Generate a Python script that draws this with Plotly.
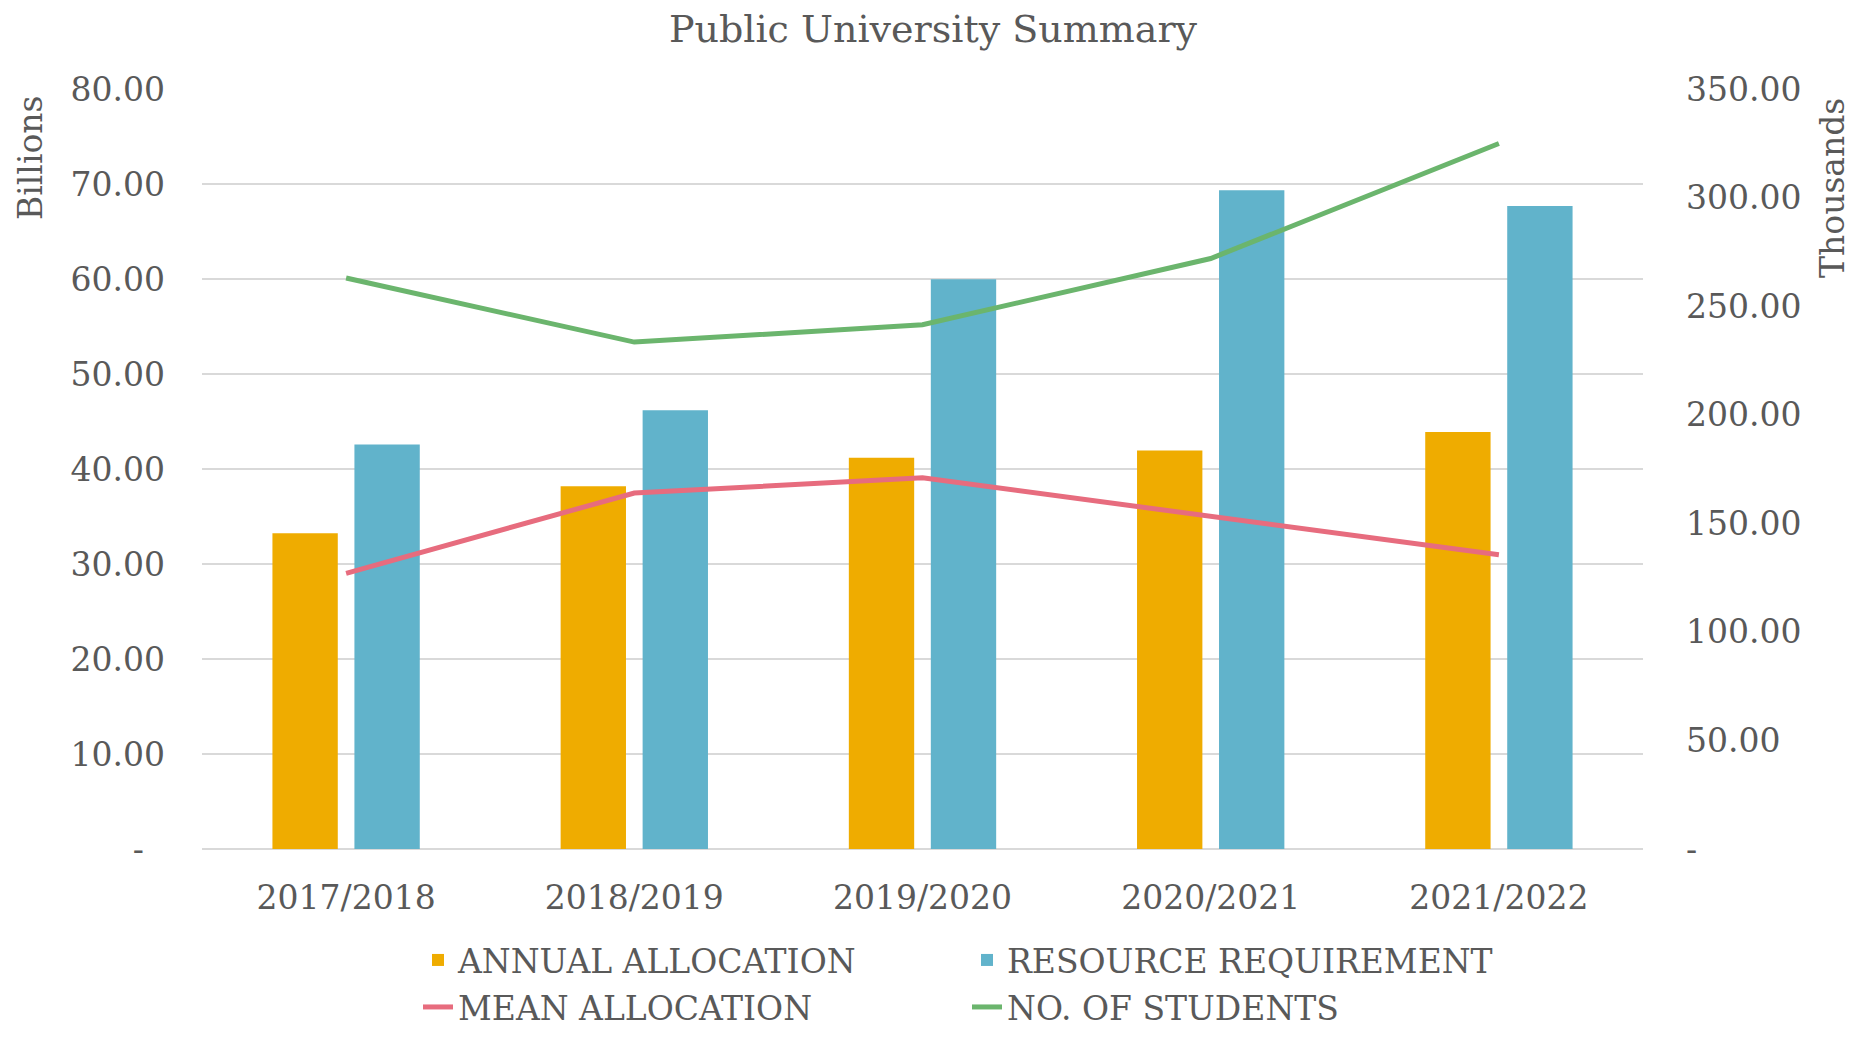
import plotly.graph_objects as go

years = ["2017/2018", "2018/2019", "2019/2020", "2020/2021", "2021/2022"]
annual_allocation = [33.25, 38.2, 41.2, 41.95, 43.9]          # Billions
resource_requirement = [42.6, 46.2, 60.0, 69.35, 67.7]       # Billions
mean_allocation = [127.0, 164.0, 171.0, 153.0, 135.5]        # Thousands
no_of_students = [263.0, 233.5, 241.5, 272.0, 325.0]         # Thousands

left_ticks = [0, 10, 20, 30, 40, 50, 60, 70, 80]
left_ticktext = ["-\u00a0\u00a0"] + [f"{v:.2f}" for v in left_ticks[1:]]
right_ticks = [0, 50, 100, 150, 200, 250, 300, 350]
right_ticktext = ["-"] + [f"{v:.2f}" for v in right_ticks[1:]]

FONT = "DejaVu Serif"
TXT = "#595959"
OFF = 8  # page body margin
W, H = 1863 - 2 * OFF, 1037 - 2 * OFF
L, T = 202 - OFF, 89 - OFF
PW, PH = 1441, 760
R, B = W - L - PW, H - T - PH

fig = go.Figure()
fig.add_trace(go.Bar(x=years, y=annual_allocation, name="ANNUAL ALLOCATION",
                     marker=dict(color="#EFAC00", line=dict(width=0)), legend="legend"))
fig.add_trace(go.Bar(x=years, y=resource_requirement, name="RESOURCE REQUIREMENT",
                     marker=dict(color="#61B3CB", line=dict(width=0)), legend="legend"))
fig.add_trace(go.Scatter(x=years, y=mean_allocation, name="MEAN ALLOCATION", yaxis="y2",
                         mode="lines", line=dict(color="#E76C7E", width=5), legend="legend2"))
fig.add_trace(go.Scatter(x=years, y=no_of_students, name="NO. OF STUDENTS", yaxis="y2",
                         mode="lines", line=dict(color="#6BB56D", width=5), legend="legend2"))

leg_common = dict(orientation="h", xanchor="left", yanchor="middle",
                  xref="container", yref="container",
                  font=dict(family=FONT, size=33, color=TXT),
                  entrywidth=504, entrywidthmode="pixels", bgcolor="rgba(0,0,0,0)",
                  traceorder="normal")
LEGX = 410 / W
fig.update_layout(
    width=W, height=H,
    margin=dict(l=L, r=R, t=T, b=B, autoexpand=False),
    paper_bgcolor="white", plot_bgcolor="white",
    font=dict(family=FONT, size=33, color=TXT),
    title=dict(text="Public University Summary", x=(933 - OFF) / W, xref="container",
               xanchor="center", y=1 - 21 / H, yanchor="middle",
               font=dict(family=FONT, size=38, color=TXT)),
    barmode="group", bargap=0.431, bargroupgap=0.203,
    xaxis=dict(showgrid=False, showline=False, ticks="", ticklabelstandoff=26,
               automargin=False,
               tickfont=dict(family=FONT, size=33, color=TXT)),
    yaxis=dict(range=[0, 80.02], tickvals=left_ticks, ticktext=left_ticktext,
               showgrid=True, gridcolor="#D9D9D9", gridwidth=1.5,
               zeroline=True, zerolinecolor="#D9D9D9", zerolinewidth=1.5,
               ticks="", ticklabelstandoff=36, automargin=False,
               tickfont=dict(family=FONT, size=33, color=TXT)),
    yaxis2=dict(range=[0, 350.0875], tickvals=right_ticks, ticktext=right_ticktext,
                overlaying="y", side="right", showgrid=False, zeroline=False,
                ticks="", ticklabelstandoff=42, automargin=False,
                tickfont=dict(family=FONT, size=33, color=TXT)),
    legend=dict(x=LEGX, y=1 - (960 - OFF) / H, **leg_common),
    legend2=dict(x=LEGX, y=1 - (1007 - OFF) / H, **leg_common),
    annotations=[
        dict(text="Billions", textangle=-90, xref="paper", yref="paper",
             x=(30 - 202) / PW, y=(849 - 158) / PH, xanchor="center", yanchor="middle",
             showarrow=False, font=dict(family=FONT, size=33, color=TXT)),
        dict(text="Thousands", textangle=-90, xref="paper", yref="paper",
             x=(1832 - 202) / PW, y=(849 - 188) / PH, xanchor="center", yanchor="middle",
             showarrow=False, font=dict(family=FONT, size=33, color=TXT)),
    ],
)

fig.write_html("out.html")
